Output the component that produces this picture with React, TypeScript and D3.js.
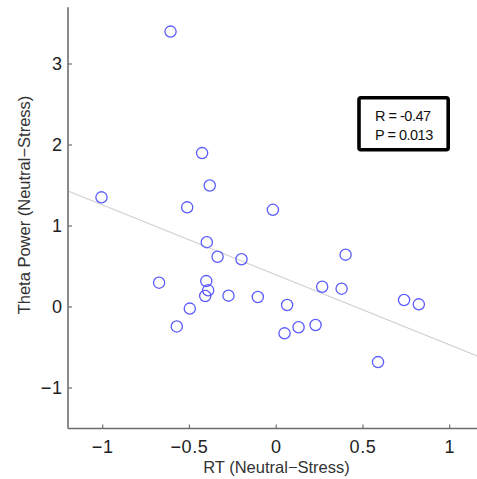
import React from "react";
import * as d3 from "d3";

const rtValues = [-0.609, -0.427, -0.383, -1.007, -0.513, -0.4, -0.338, -0.2, -0.675, -0.403, -0.392, -0.409, -0.275, -0.498, -0.573, -0.019, 0.4, 0.265, 0.377, -0.106, 0.063, 0.737, 0.822, 0.227, 0.129, 0.048, 0.587];
const thetaValues = [3.4, 1.9, 1.5, 1.354, 1.23, 0.8, 0.62, 0.59, 0.3, 0.32, 0.206, 0.136, 0.14, -0.02, -0.24, 1.2, 0.646, 0.25, 0.226, 0.123, 0.025, 0.086, 0.033, -0.222, -0.25, -0.325, -0.68];
const fitX = [-1.2, 1.16];
const fitY = [1.432, -0.605];
const xTicks = [-1, -0.5, 0, 0.5, 1];
const yTicks = [-1, 0, 1, 2, 3];
const statLines = ["R = -0.47", "P = 0.013"];

const W = 477;
const H = 479;

export default function App() {
  const x = d3.scaleLinear().domain([-1.2, 1.2]).range([68, 484.4]);
  const y = d3.scaleLinear().domain([-1.5, 3.7]).range([428.5, 7.3]);
  const axisColor = "#6e6e6e";
  const fmt = (v: number) => (v < 0 ? "\u2212" + Math.abs(v) : String(v));
  const line = d3.line<number>().x((_, i) => x(fitX[i])).y((d) => y(d));
  const x0 = x(-1.2);
  const yBottom = y(-1.5);
  return (
    <svg width={W} height={H} style={{ position: "absolute", left: 0, top: 0, background: "#fff" }} fontFamily="'Liberation Sans', Arial, sans-serif">
      <path d={line(fitY) || ""} fill="none" stroke="#d0d0d0" strokeWidth={1.2} />
      {rtValues.map((rv, i) => (
        <circle key={i} cx={x(rv)} cy={y(thetaValues[i])} r={5.6} fill="none" stroke="#5b5bff" strokeWidth={1.3} />
      ))}
      <line x1={x0} x2={W} y1={yBottom} y2={yBottom} stroke={axisColor} strokeWidth={1.6} />
      <line x1={x0} x2={x0} y1={y(3.7)} y2={yBottom} stroke={axisColor} strokeWidth={1.6} />
      {xTicks.map((t) => (
        <g key={"x" + t}>
          <line x1={x(t)} x2={x(t)} y1={yBottom} y2={yBottom - 4} stroke={axisColor} strokeWidth={1.2} />
          <text x={x(t)} y={452.7} textAnchor="middle" fontSize={18} letterSpacing={0.6} fill="#222">{fmt(t)}</text>
        </g>
      ))}
      {yTicks.map((t) => (
        <g key={"y" + t}>
          <line x1={x0} x2={x0 + 4} y1={y(t)} y2={y(t)} stroke={axisColor} strokeWidth={1.2} />
          <text x={62.5} y={y(t) + 6.4} textAnchor="end" fontSize={18} letterSpacing={0.6} fill="#222">{fmt(t)}</text>
        </g>
      ))}
      <text x={276.5} y={473} textAnchor="middle" fontSize={16.5} fill="#333">RT (Neutral{"\u2212"}Stress)</text>
      <text transform="translate(29.5,205) rotate(-90)" textAnchor="middle" fontSize={16.5} fill="#333">Theta Power (Neutral{"\u2212"}Stress)</text>
      <rect x={359} y={97.8} width={89.2} height={52} rx={2} fill="#fff" stroke="#000" strokeWidth={3.6} />
      {statLines.map((s, i) => (
        <text key={s} x={375} y={121 + i * 18.5} textAnchor="start" fontSize={14.5} letterSpacing={-0.5} fill="#111">{s}</text>
      ))}
    </svg>
  );
}
